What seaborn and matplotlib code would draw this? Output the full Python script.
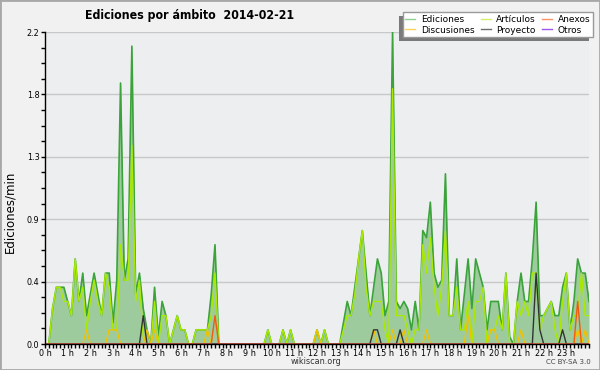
import numpy as np
import pandas as pd
import matplotlib
matplotlib.use("Agg")
import matplotlib.pyplot as plt
from matplotlib.lines import Line2D
from matplotlib.patches import Rectangle
from matplotlib.ticker import FixedLocator, MultipleLocator
from matplotlib import font_manager
import seaborn as sns

# ediciones por minuto, un valor cada 10 minutos (00:00 ... 24:00)
ediciones = [
    0.0, 0.0, 0.25, 0.4, 0.4, 0.4, 0.3, 0.2, 0.6, 0.3, 0.5, 0.2,
    0.35, 0.5, 0.35, 0.2, 0.5, 0.5, 0.15, 0.45, 1.84, 0.45, 0.6, 2.1,
    0.35, 0.5, 0.25, 0.1, 0.0, 0.4, 0.05, 0.3, 0.2, 0.0, 0.1, 0.2,
    0.1, 0.1, 0.0, 0.0, 0.1, 0.1, 0.1, 0.1, 0.35, 0.7, 0.0, 0.0,
    0.0, 0.0, 0.0, 0.0, 0.0, 0.0, 0.0, 0.0, 0.0, 0.0, 0.0, 0.1,
    0.0, 0.0, 0.0, 0.1, 0.0, 0.1, 0.0, 0.0, 0.0, 0.0, 0.0, 0.0,
    0.1, 0.0, 0.1, 0.0, 0.0, 0.0, 0.0, 0.15, 0.3, 0.2, 0.4, 0.6,
    0.8, 0.5, 0.2, 0.4, 0.6, 0.5, 0.2, 0.3, 2.2, 0.3, 0.25, 0.3,
    0.25, 0.1, 0.3, 0.1, 0.8, 0.75, 1.0, 0.5, 0.4, 0.45, 1.2, 0.2,
    0.2, 0.6, 0.1, 0.35, 0.6, 0.25, 0.6, 0.5, 0.4, 0.1, 0.3, 0.3,
    0.3, 0.1, 0.5, 0.05, 0.0, 0.3, 0.5, 0.3, 0.3, 0.6, 1.0, 0.2,
    0.2, 0.25, 0.3, 0.2, 0.2, 0.4, 0.5, 0.1, 0.3, 0.6, 0.5, 0.5,
    0.3,
]
articulos = [
    0.0, 0.0, 0.25, 0.4, 0.4, 0.3, 0.3, 0.2, 0.6, 0.3, 0.4, 0.1,
    0.3, 0.45, 0.3, 0.2, 0.5, 0.4, 0.1, 0.1, 0.7, 0.45, 0.45, 1.4,
    0.3, 0.45, 0.05, 0.0, 0.0, 0.3, 0.0, 0.2, 0.2, 0.0, 0.1, 0.2,
    0.1, 0.1, 0.0, 0.0, 0.1, 0.1, 0.1, 0.1, 0.2, 0.5, 0.0, 0.0,
    0.0, 0.0, 0.0, 0.0, 0.0, 0.0, 0.0, 0.0, 0.0, 0.0, 0.0, 0.1,
    0.0, 0.0, 0.0, 0.1, 0.0, 0.1, 0.0, 0.0, 0.0, 0.0, 0.0, 0.0,
    0.1, 0.0, 0.1, 0.0, 0.0, 0.0, 0.0, 0.1, 0.2, 0.2, 0.35, 0.6,
    0.8, 0.4, 0.2, 0.3, 0.3, 0.3, 0.1, 0.0, 1.8, 0.2, 0.2, 0.2,
    0.1, 0.0, 0.1, 0.1, 0.7, 0.5, 0.75, 0.4, 0.2, 0.4, 0.8, 0.2,
    0.2, 0.4, 0.1, 0.1, 0.3, 0.0, 0.3, 0.3, 0.4, 0.0, 0.1, 0.1,
    0.2, 0.1, 0.5, 0.0, 0.0, 0.3, 0.2, 0.3, 0.2, 0.5, 0.5, 0.1,
    0.2, 0.25, 0.3, 0.1, 0.0, 0.3, 0.5, 0.1, 0.2, 0.2, 0.5, 0.2,
    0.2,
]
discusiones = [
    0, 0, 0, 0, 0, 0, 0, 0, 0, 0, 0, 0.1,
    0, 0, 0, 0, 0, 0.1, 0.1, 0.1, 0, 0, 0, 0,
    0, 0, 0, 0.1, 0, 0.1, 0, 0, 0, 0, 0, 0,
    0, 0, 0, 0, 0, 0, 0, 0.1, 0, 0, 0, 0,
    0, 0, 0, 0, 0, 0, 0, 0, 0, 0, 0, 0,
    0, 0, 0, 0, 0, 0, 0, 0, 0, 0, 0, 0,
    0.1, 0, 0, 0, 0, 0, 0, 0, 0, 0, 0, 0,
    0, 0, 0, 0.1, 0, 0, 0, 0, 0.1, 0, 0, 0.1,
    0, 0, 0, 0, 0, 0.1, 0, 0, 0, 0, 0, 0,
    0, 0, 0, 0, 0.2, 0, 0, 0, 0, 0, 0.1, 0.1,
    0, 0, 0, 0, 0, 0, 0.1, 0, 0, 0, 0, 0,
    0, 0, 0, 0, 0, 0, 0, 0, 0, 0.1, 0, 0.1,
    0,
]
proyecto = [
    0, 0, 0, 0, 0, 0, 0, 0, 0, 0, 0, 0,
    0, 0, 0, 0, 0, 0, 0, 0, 0, 0, 0, 0,
    0, 0, 0.2, 0, 0, 0, 0, 0, 0, 0, 0, 0,
    0, 0, 0, 0, 0, 0, 0, 0, 0, 0, 0, 0,
    0, 0, 0, 0, 0, 0, 0, 0, 0, 0, 0, 0,
    0, 0, 0, 0, 0, 0, 0, 0, 0, 0, 0, 0,
    0, 0, 0, 0, 0, 0, 0, 0, 0, 0, 0, 0,
    0, 0, 0, 0.1, 0.1, 0, 0, 0, 0, 0, 0.1, 0,
    0, 0, 0, 0, 0, 0, 0, 0, 0, 0, 0, 0,
    0, 0, 0, 0, 0, 0, 0, 0, 0, 0, 0, 0,
    0, 0, 0, 0, 0, 0, 0, 0, 0, 0, 0.5, 0.1,
    0, 0, 0, 0, 0, 0.1, 0, 0, 0, 0, 0, 0,
    0,
]
anexos = [
    0, 0, 0, 0, 0, 0, 0, 0, 0, 0, 0, 0,
    0, 0, 0, 0, 0, 0, 0, 0, 0, 0, 0, 0,
    0, 0, 0, 0, 0, 0, 0, 0, 0, 0, 0, 0,
    0, 0, 0, 0, 0, 0, 0, 0, 0, 0.2, 0, 0,
    0, 0, 0, 0, 0, 0, 0, 0, 0, 0, 0, 0,
    0, 0, 0, 0, 0, 0, 0, 0, 0, 0, 0, 0,
    0, 0, 0, 0, 0, 0, 0, 0, 0, 0, 0, 0,
    0, 0, 0, 0, 0, 0, 0, 0, 0, 0, 0, 0,
    0, 0, 0, 0, 0, 0, 0, 0, 0, 0, 0, 0,
    0, 0, 0, 0, 0, 0, 0, 0, 0, 0, 0, 0,
    0, 0, 0, 0, 0, 0, 0, 0, 0, 0, 0, 0,
    0, 0, 0, 0, 0, 0, 0, 0, 0, 0.3, 0, 0,
    0,
]
otros = [
    0, 0, 0, 0, 0, 0, 0, 0, 0, 0, 0, 0,
    0, 0, 0, 0, 0, 0, 0, 0, 0, 0, 0, 0,
    0, 0, 0, 0, 0, 0, 0, 0, 0, 0, 0, 0,
    0, 0, 0, 0, 0, 0, 0, 0, 0, 0, 0, 0,
    0, 0, 0, 0, 0, 0, 0, 0, 0, 0, 0, 0,
    0, 0, 0, 0, 0, 0, 0, 0, 0, 0, 0, 0,
    0, 0, 0, 0, 0, 0, 0, 0, 0, 0, 0, 0,
    0, 0, 0, 0, 0, 0, 0, 0, 0, 0, 0, 0,
    0, 0, 0, 0, 0, 0, 0, 0, 0, 0, 0, 0,
    0, 0, 0, 0, 0, 0, 0, 0, 0, 0, 0, 0,
    0, 0, 0, 0, 0, 0, 0, 0, 0, 0, 0, 0,
    0, 0, 0, 0, 0, 0, 0, 0, 0, 0, 0, 0,
    0,
]

hour_labels = [f"{h} h" for h in range(24)]
y_ticks = [0.0, 0.44, 0.88, 1.32, 1.76, 2.2]

df = pd.DataFrame({
    "hora": np.arange(len(ediciones)) / 6,
    "Ediciones": ediciones,
    "Artículos": articulos,
    "Discusiones": discusiones,
    "Proyecto": proyecto,
    "Anexos": anexos,
    "Otros": otros,
})

# colour of the plotted line, colour shown in the legend
styles = {
    "Ediciones": ("#3aa33a", "#90cf90"),
    "Artículos": ("#aaea00", "#d2ef6a"),
    "Discusiones": ("#f2c200", "#fbd35a"),
    "Proyecto": ("#333333", "#6e6e6e"),
    "Anexos": ("#f25a10", "#ff9262"),
    "Otros": ("#9933ee", "#a254ee"),
}

plt.rcParams["font.family"] = "DejaVu Sans"
cond_bold = font_manager.FontProperties(family="DejaVu Sans", stretch="condensed",
                                        weight="bold", size=8.8)

fig = plt.figure(figsize=(6, 3.7), dpi=100, facecolor="#f1f1f1")
ax = fig.add_axes([45 / 600, 26 / 370, 544 / 600, 312 / 370])
ax.set_facecolor("#eceef0")

ax.fill_between(df["hora"], df["Ediciones"], color="#9ecb9e", lw=0, zorder=2)
sns.lineplot(data=df, x="hora", y="Ediciones", color=styles["Ediciones"][0],
             lw=1.2, ax=ax, zorder=3)
for name in ["Artículos", "Discusiones", "Proyecto", "Anexos", "Otros"]:
    sns.lineplot(data=df, x="hora", y=name, color=styles[name][0], lw=1,
                 ax=ax, zorder=4)

ax.set_xlim(0, 24)
ax.set_ylim(0, 2.2)
ax.xaxis.set_major_locator(FixedLocator(range(24)))
ax.set_xticklabels(hour_labels)
ax.xaxis.set_minor_locator(MultipleLocator(1 / 6))
ax.yaxis.set_major_locator(FixedLocator(y_ticks))
ax.set_yticklabels([f"{v:.1f}" for v in y_ticks])
ax.yaxis.set_minor_locator(MultipleLocator(0.11))
ax.tick_params(which="both", direction="out", length=3, width=1,
               labelsize=6.5, pad=1, colors="black")
ax.tick_params(axis="x", pad=0.5)
for lab in ax.get_xticklabels() + ax.get_yticklabels():
    lab.set_fontstretch("condensed")
ax.grid(axis="y", color="#c8c8c8", lw=1, zorder=1)
ax.grid(axis="x", visible=False)
ax.set_axisbelow(True)
for side in ["top", "right"]:
    ax.spines[side].set_visible(False)
for side in ["left", "bottom"]:
    ax.spines[side].set_color("black")
    ax.spines[side].set_linewidth(1)
    ax.spines[side].set_zorder(6)
ax.set_xlabel("")
ax.set_ylabel("")

fig.text(10 / 600, 1 - 212 / 370, "Ediciones/min", fontsize=8.5,
         rotation=90, ha="center", va="center")
fig.text(85 / 600, 1 - 15 / 370, "Ediciones por ámbito  2014-02-21",
         fontproperties=cond_bold, va="center", ha="left")
fig.text(316 / 600, 1 - 362 / 370, "wikiscan.org", fontsize=6.5,
         fontstretch="condensed", color="#333333", ha="center", va="center")
fig.text(591 / 600, 1 - 362 / 370, "CC BY-SA 3.0", fontsize=5,
         color="#444444", ha="right", va="center")

order = ["Ediciones", "Discusiones", "Artículos", "Proyecto", "Anexos", "Otros"]
handles = [Line2D([], [], color=styles[n][1], lw=1) for n in order]
leg = fig.legend(handles, order, ncol=3, loc="upper right",
                 bbox_to_anchor=(593 / 600, 1 - 12 / 370),
                 bbox_transform=fig.transFigure, borderaxespad=0,
                 frameon=True, fancybox=False, framealpha=1,
                 edgecolor="#9a9a9a", facecolor="white",
                 fontsize=6.5, handlelength=1.1, handletextpad=0.65,
                 labelspacing=0.2, columnspacing=0.65, borderpad=0.3)
leg.get_frame().set_linewidth(1)
leg.set_zorder(10)

# grey drop shadow, offset down-left of the legend box
fig.canvas.draw()
bb = leg.get_frame().get_window_extent().transformed(fig.transFigure.inverted())
fig.add_artist(Rectangle((bb.x0 - 4 / 600, bb.y0 - 4 / 370), bb.width, bb.height,
                         transform=fig.transFigure, facecolor="#7a7a7a",
                         edgecolor="none", zorder=9))
fig.add_artist(Rectangle((0, 0), 1, 1, transform=fig.transFigure, fill=False,
                         edgecolor="#a8a8a8", lw=2, zorder=11))

fig.savefig("out.png", dpi=100, facecolor=fig.get_facecolor())
